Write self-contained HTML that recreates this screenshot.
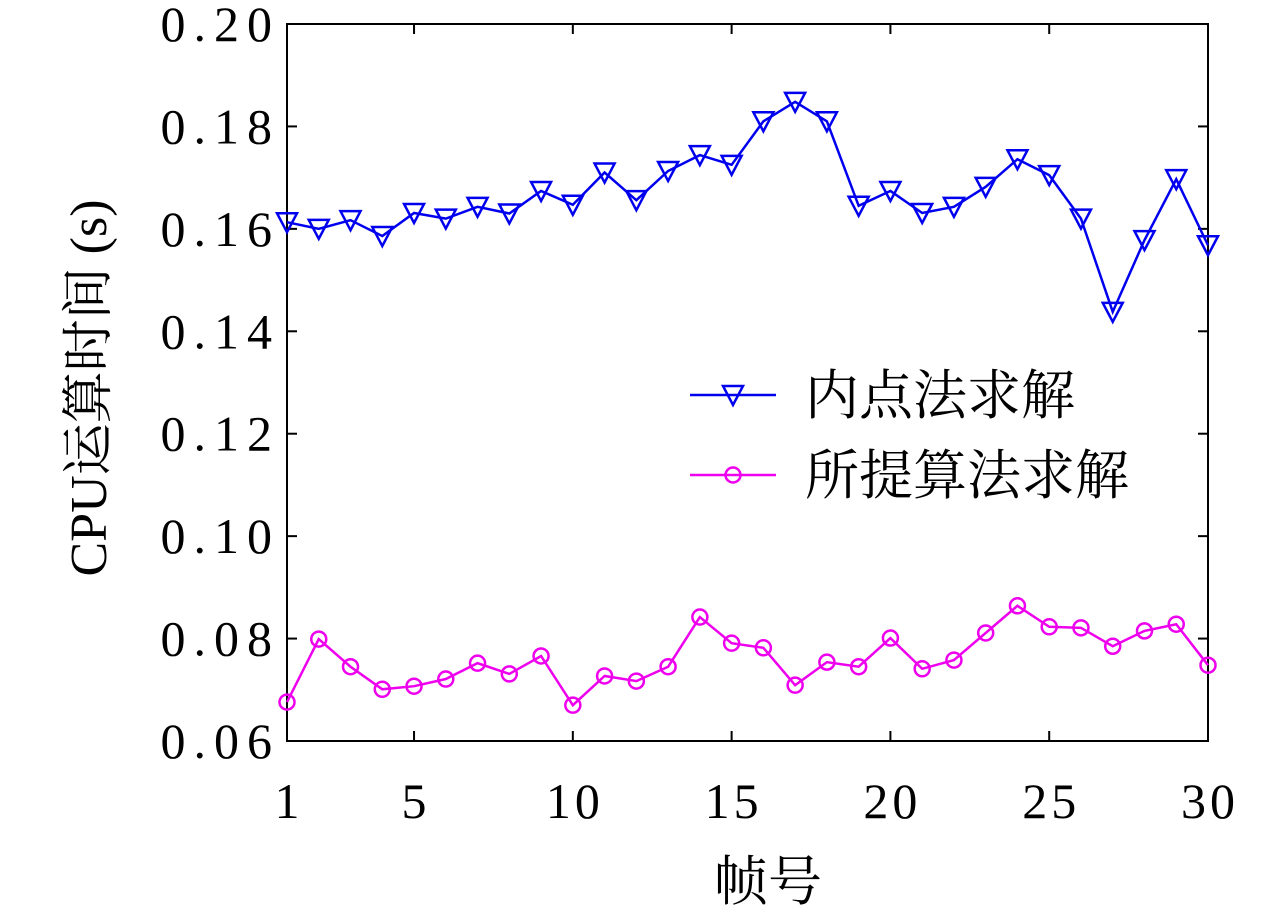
<!DOCTYPE html>
<html><head><meta charset="utf-8"><style>
body{margin:0;background:#fff;}
svg text{font-family:"Liberation Serif","Noto Serif CJK SC",serif;fill:#000;}
</style></head><body>
<svg id="chart" width="1280" height="913" xmlns="http://www.w3.org/2000/svg"></svg>
<script>
const frames=[1,2,3,4,5,6,7,8,9,10,11,12,13,14,15,16,17,18,19,20,21,22,23,24,25,26,27,28,29,30];
const ipmValues=[0.1613,0.160,0.1617,0.1586,0.1631,0.162,0.1643,0.163,0.1674,0.1647,0.171,0.1656,0.1713,0.1744,0.1725,0.181,0.1848,0.181,0.1645,0.1674,0.1631,0.1643,0.1682,0.1736,0.1705,0.162,0.1438,0.1578,0.1697,0.1568];
const propValues=[0.0676,0.0799,0.0745,0.0701,0.0707,0.0721,0.0752,0.0731,0.0766,0.067,0.0727,0.0717,0.0745,0.0842,0.0791,0.0782,0.0709,0.0754,0.0745,0.0801,0.0741,0.0758,0.0811,0.0864,0.0823,0.0821,0.0785,0.0815,0.0828,0.0748];
const xTicks=[1,5,10,15,20,25,30];
const yTicks=[0.06,0.08,0.10,0.12,0.14,0.16,0.18,0.20];
const L=287,R=1208,T=24,B=741;
const sx=v=>L+(v-1)/29*(R-L);
const sy=v=>B-(v-0.06)/0.14*(B-T);
const svg=document.getElementById('chart');
const NS='http://www.w3.org/2000/svg';
function mk(tag,attrs,parent){const e=document.createElementNS(NS,tag);for(const k in attrs)e.setAttribute(k,attrs[k]);(parent||svg).appendChild(e);return e;}
const frame=mk('rect',{x:L,y:T,width:R-L,height:B-T,fill:'none',stroke:'#000','stroke-width':2});


xTicks.forEach(t=>{
  const x=sx(t);
  mk('line',{x1:x,y1:B,x2:x,y2:B-10,stroke:'#000','stroke-width':2});
  mk('line',{x1:x,y1:T,x2:x,y2:T+10,stroke:'#000','stroke-width':2});
  const tx=mk('text',{x:x+2,y:B+77,'font-size':50,'letter-spacing':4,'text-anchor':'middle'});tx.textContent=t;
  
  
});
yTicks.forEach(t=>{
  const y=sy(t);
  mk('line',{x1:L,y1:y,x2:L+10,y2:y,stroke:'#000','stroke-width':2});
  mk('line',{x1:R,y1:y,x2:R-10,y2:y,stroke:'#000','stroke-width':2});
  const tx=mk('text',{x:L-7,y:y+17,'font-size':50,'letter-spacing':8,'text-anchor':'end'});tx.textContent=t.toFixed(2);
  
  
});
const xt=mk('text',{x:768,y:900,'font-size':54,'text-anchor':'middle'});xt.textContent='帧号';


const yt=mk('text',{x:0,y:0,'font-size':52,'text-anchor':'middle',transform:'translate(106,388) rotate(-90)'});yt.textContent='CPU运算时间 (s)';


function tri(x,y,c,g){mk('polygon',{points:`${x-10},${y-9} ${x+10},${y-9} ${x},${y+10}`,fill:'none',stroke:c,'stroke-width':2.5},g);}
function circ(x,y,c,g){mk('circle',{cx:x,cy:y,r:7.5,fill:'none',stroke:c,'stroke-width':2.5},g);}
function series(vals,c,marker,name){
  const g=mk('g',{});
  
  
  mk('polyline',{points:frames.map((f,i)=>sx(f)+','+sy(vals[i])).join(' '),fill:'none',stroke:c,'stroke-width':2.5},g);
  frames.forEach((f,i)=>marker(sx(f),sy(vals[i]),c,g));
}
series(ipmValues,'#0000ee',tri,'series-interior-point');
series(propValues,'#ee00ee',circ,'series-proposed');
function legend(y,c,marker,label,name){
  const g=mk('g',{});
  
  
  mk('line',{x1:690,y1:y,x2:776,y2:y,stroke:c,'stroke-width':2.5},g);
  marker(733,y,c,g);
  const t=mk('text',{x:805,y:y+19,'font-size':54},g);t.textContent=label;
}
legend(395,'#0000ee',tri,'内点法求解','legend-entry-interior-point');
legend(475,'#ee00ee',circ,'所提算法求解','legend-entry-proposed');
</script>
</body></html>
